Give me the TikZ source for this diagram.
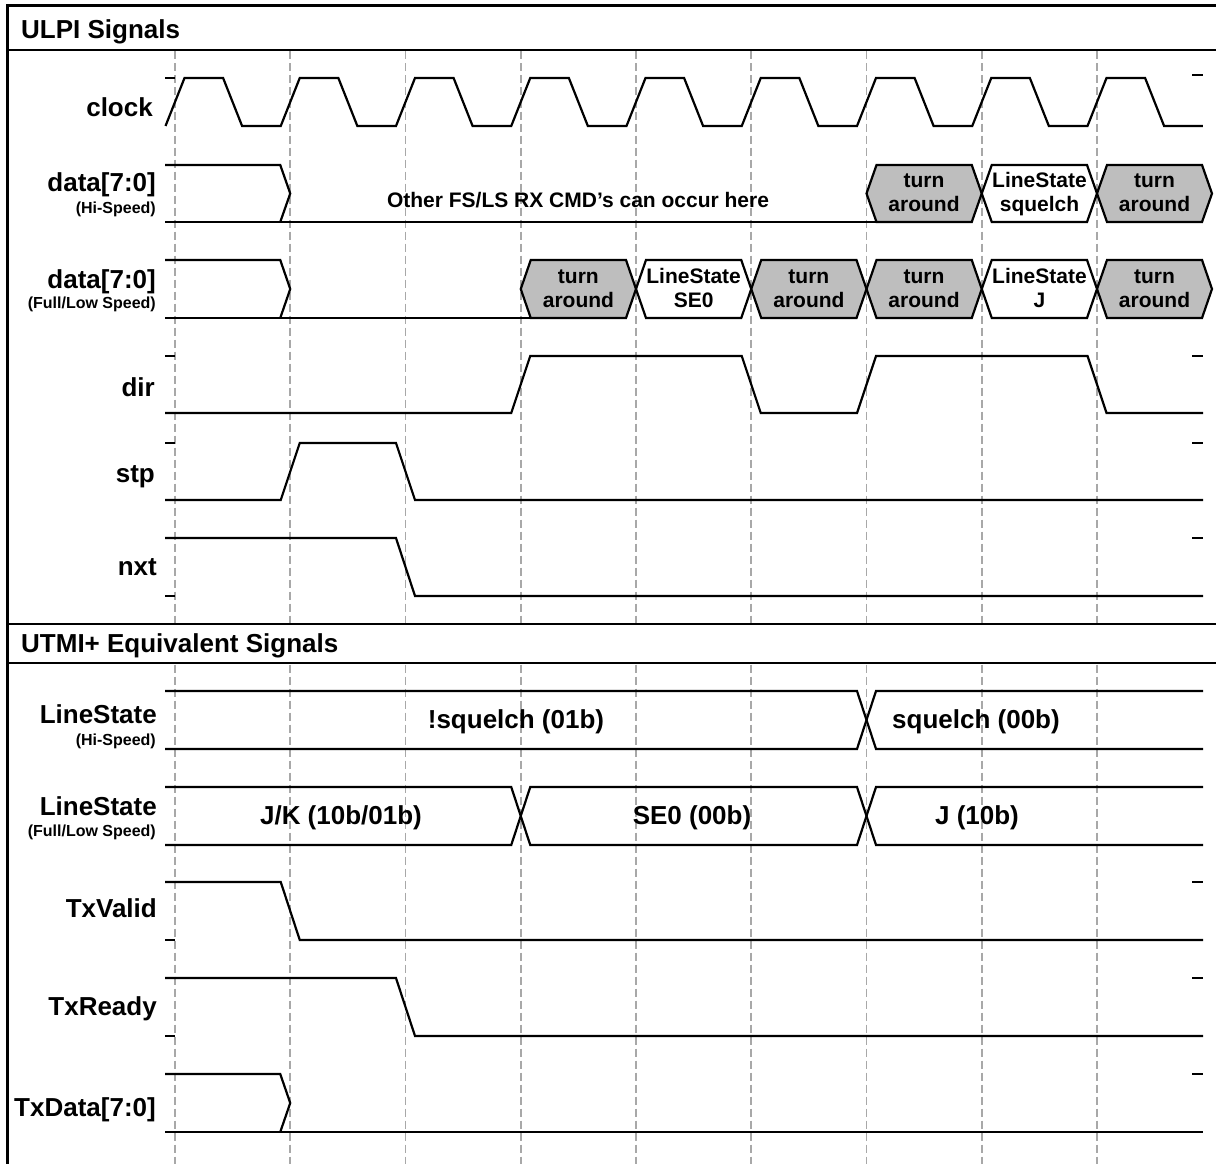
\documentclass[tikz,border=0pt]{standalone}
\usepackage{fontspec}
\setmainfont{Liberation Sans}
\newcommand{\myfbig}{\fontsize{26}{30}\selectfont\bfseries}
\newcommand{\myfsub}{\fontsize{16}{18}\selectfont\bfseries}
\newcommand{\myfhex}{\fontsize{21}{24}\selectfont\bfseries}
\definecolor{hexgrey}{RGB}{190,190,190}
\definecolor{gridgrey}{RGB}{168,168,168}
\tikzset{
  sig/.style={line width=2.2pt, draw=black, line join=miter},
  frameline/.style={line width=3pt, draw=black},
  gridline/.style={line width=1.9pt, draw=gridgrey, dash pattern=on 8pt off 4pt},
  lbl/.style={anchor=base east, font=\myfbig, inner sep=0pt},
  sublbl/.style={anchor=base east, font=\myfsub, inner sep=0pt},
  title/.style={anchor=base west, font=\myfbig, inner sep=0pt},
  hextxt/.style={anchor=base, font=\myfhex, inner sep=0pt},
  bustxt/.style={anchor=base, font=\myfbig, inner sep=0pt},
  tick/.style={line width=2.2pt, draw=black}
}
% hexagon: #1 x0, #2 x1, #3 ytop, #4 ybot, #5 fill
\newcommand{\myhex}[5]{%
  \filldraw[sig, fill=#5] (#1,{(#3+#4)/2}) -- ({#1+10},#3) -- ({#2-10},#3) -- (#2,{(#3+#4)/2}) -- ({#2-10},#4) -- ({#1+10},#4) -- cycle;}
\begin{document}
\begin{tikzpicture}[x=1pt,y=-1pt]
\useasboundingbox (0,0) rectangle (1216,1164);
\fill[white] (0,0) rectangle (1216,1164);

% grid lines
\foreach \i in {0,...,8} {
  \draw[gridline] ({175+115.25*\i},51.5) -- ({175+115.25*\i},622.5);
  \draw[gridline] ({175+115.25*\i},664.5) -- ({175+115.25*\i},1164);
}

% frame
\draw[frameline, line width=3.5pt] (7.5,1170) -- (7.5,5.5) -- (1220,5.5);
\draw[frameline, line width=2.5pt] (7.5,50) -- (1220,50);
\draw[frameline, line width=2.5pt] (7.5,624) -- (1220,624);
\draw[frameline, line width=2.5pt] (7.5,663) -- (1220,663);

% titles
\node[title] (t1) at (21,39) {ULPI Signals};
\node[title] (t2) at (21,652) {UTMI+ Equivalent Signals};

% labels
\node[lbl] (lclock) at (153,116) {clock};
\node[lbl] (ldata1) at (156,191.5) {data[7:0]};
\node[sublbl] (ldata1s) at (156,213) {(Hi-Speed)};
\node[lbl] (ldata2) at (156,288) {data[7:0]};
\node[sublbl] (ldata2s) at (156,308) {(Full/Low Speed)};
\node[lbl] (ldir) at (155,396) {dir};
\node[lbl] (lstp) at (155,482) {stp};
\node[lbl] (lnxt) at (157,575) {nxt};
\node[lbl] (lls1) at (157,723) {LineState};
\node[sublbl] (lls1s) at (156,745) {(Hi-Speed)};
\node[lbl] (lls2) at (157,815) {LineState};
\node[sublbl] (lls2s) at (156,836) {(Full/Low Speed)};
\node[lbl] (ltxv) at (157,917) {TxValid};
\node[lbl] (ltxr) at (157,1015) {TxReady};
\node[lbl] (ltxd) at (156,1116) {TxData[7:0]};

% clock
\draw[sig] (165.5,126) foreach \i in {0,...,8} {
  -- ({175+115.25*\i+9.5},78) -- ({175+115.25*\i+48.1},78)
  -- ({175+115.25*\i+67.1},126) -- ({175+115.25*\i+105.75},126) };

% data HS
\draw[sig] (165,165) -- (280.25,165) -- (290.25,193.5) -- (280.25,222);
\draw[sig] (165,222) -- (876.5,222);
\myhex{866.5}{981.75}{165}{222}{hexgrey}
\myhex{981.75}{1097}{165}{222}{white}
\myhex{1097}{1212}{165}{222}{hexgrey}
\node[hextxt] (h1a) at (924,187) {turn};
\node[hextxt] (h1b) at (924,211.5) {around};
\node[hextxt] (h2a) at (1039.5,187) {LineState};
\node[hextxt] (h2b) at (1039.5,211.5) {squelch};
\node[hextxt] (h3a) at (1154.5,187) {turn};
\node[hextxt] (h3b) at (1154.5,211.5) {around};
\node[hextxt] (other) at (578,207) {Other FS/LS RX CMD’s can occur here};

% data FS/LS
\draw[sig] (165,260) -- (280.25,260) -- (290.25,289) -- (280.25,318);
\draw[sig] (165,318) -- (530.75,318);
\myhex{520.75}{636}{260}{318}{hexgrey}
\myhex{636}{751.25}{260}{318}{white}
\myhex{751.25}{866.5}{260}{318}{hexgrey}
\myhex{866.5}{981.75}{260}{318}{hexgrey}
\myhex{981.75}{1097}{260}{318}{white}
\myhex{1097}{1212}{260}{318}{hexgrey}
\node[hextxt] (g1a) at (578.4,283) {turn};
\node[hextxt] (g1b) at (578.4,307) {around};
\node[hextxt] (g2a) at (693.6,283) {LineState};
\node[hextxt] (g2b) at (693.6,307) {SE0};
\node[hextxt] (g3a) at (808.9,283) {turn};
\node[hextxt] (g3b) at (808.9,307) {around};
\node[hextxt] (g4a) at (924,283) {turn};
\node[hextxt] (g4b) at (924,307) {around};
\node[hextxt] (g5a) at (1039.5,283) {LineState};
\node[hextxt] (g5b) at (1039.5,307) {J};
\node[hextxt] (g6a) at (1154.5,283) {turn};
\node[hextxt] (g6b) at (1154.5,307) {around};

% dir
\draw[sig] (165,413) -- (511.25,413) -- (530.25,356) -- (741.75,356) -- (760.75,413)
  -- (857,413) -- (876,356) -- (1087.5,356) -- (1106.5,413) -- (1203,413);
% stp
\draw[sig] (165,500) -- (280.75,500) -- (299.75,443) -- (396,443) -- (415,500) -- (1203,500);
% nxt
\draw[sig] (165,538) -- (396,538) -- (415,596) -- (1203,596);

% LineState HS
\draw[sig] (165,691) -- (857,691) -- (876,749) -- (1203,749);
\draw[sig] (165,749) -- (857,749) -- (876,691) -- (1203,691);
\node[bustxt] (b1) at (516,728) {!squelch (01b)};
\node[bustxt] (b2) at (976,728) {squelch (00b)};

% LineState FS
\draw[sig] (165,787) -- (511.25,787) -- (530.25,845) -- (857,845) -- (876,787) -- (1203,787);
\draw[sig] (165,845) -- (511.25,845) -- (530.25,787) -- (857,787) -- (876,845) -- (1203,845);
\node[bustxt] (b3) at (341,824) {J/K (10b/01b)};
\node[bustxt] (b4) at (692,824) {SE0 (00b)};
\node[bustxt] (b5) at (977,824) {J (10b)};

% TxValid
\draw[sig] (165,882) -- (280.75,882) -- (299.75,940) -- (1203,940);
% TxReady
\draw[sig] (165,978) -- (396,978) -- (415,1036) -- (1203,1036);
% TxData
\draw[sig] (165,1074) -- (280.25,1074) -- (290.25,1103) -- (280.25,1132);
\draw[sig] (165,1132) -- (1203,1132);

% ticks left
\foreach \y in {78,356,443,596,940,1036} { \draw[tick] (165,\y) -- (175,\y); }
% ticks right
\foreach \y in {75,356,443,538,882,978,1074} { \draw[tick] (1192,\y) -- (1203,\y); }
\end{tikzpicture}
\end{document}
